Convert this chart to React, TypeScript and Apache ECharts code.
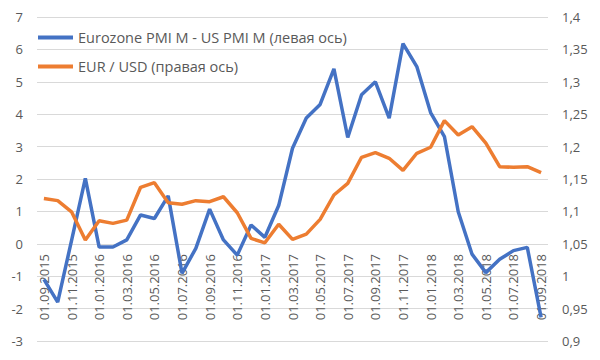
import React, { useEffect, useRef } from "react";
import * as echarts from "echarts";

const dates = [
  "01.09.2015", "01.10.2015", "01.11.2015", "01.12.2015",
  "01.01.2016", "01.02.2016", "01.03.2016", "01.04.2016", "01.05.2016", "01.06.2016",
  "01.07.2016", "01.08.2016", "01.09.2016", "01.10.2016", "01.11.2016", "01.12.2016",
  "01.01.2017", "01.02.2017", "01.03.2017", "01.04.2017", "01.05.2017", "01.06.2017",
  "01.07.2017", "01.08.2017", "01.09.2017", "01.10.2017", "01.11.2017", "01.12.2017",
  "01.01.2018", "01.02.2018", "01.03.2018", "01.04.2018", "01.05.2018", "01.06.2018",
  "01.07.2018", "01.08.2018", "01.09.2018",
];

const pmiDiff = [
  -1.1, -1.8, 0.1, 2.02, -0.1, -0.1, 0.12, 0.89, 0.78, 1.48,
  -0.91, -0.14, 1.07, 0.12, -0.35, 0.58, 0.2, 1.18, 2.95, 3.88,
  4.3, 5.4, 3.28, 4.6, 5.0, 3.88, 6.18, 5.47, 4.05, 3.31,
  0.99, -0.32, -0.89, -0.48, -0.21, -0.11, -2.27,
];

const eurUsd = [
  1.12, 1.1166, 1.0994, 1.0557, 1.0855, 1.0815, 1.0866, 1.1372, 1.1443, 1.1134,
  1.111, 1.1166, 1.115, 1.1226, 1.0979, 1.0583, 1.0515, 1.0802, 1.0568, 1.065,
  1.0877, 1.1253, 1.1433, 1.1835, 1.1907, 1.182, 1.1633, 1.1897, 1.199, 1.2401,
  1.218, 1.2308, 1.2052, 1.169, 1.1681, 1.169, 1.1598,
];

const seriesNames = ["Eurozone PMI M - US PMI M (левая ось)", "EUR / USD (правая ось)"];

const TEXT = "#595959";
const FONT = "Open Sans";

// left-axis range; the category axis sits at its zero line, as in the reference
const LEFT_MIN = -3;
const LEFT_MAX = 7;
const GRID_TOP = 17;
const GRID_BOTTOM = 19;
const CHART_H = 360;

export default function App() {
  const ref = useRef<HTMLDivElement>(null);
  useEffect(() => {
    if (!ref.current) return;
    const chart = echarts.init(ref.current, null, { renderer: "svg" });
    const gridH = CHART_H - GRID_TOP - GRID_BOTTOM;
    const zeroOffset = -Math.round((gridH * (0 - LEFT_MIN)) / (LEFT_MAX - LEFT_MIN));
    chart.setOption({
      animation: false,
      backgroundColor: "#ffffff",
      textStyle: { fontFamily: FONT },
      grid: {
        left: 37,
        right: 52,
        top: GRID_TOP,
        bottom: GRID_BOTTOM,
        containLabel: false,
        outerBoundsMode: "none",
      },
      legend: {
        orient: "vertical",
        left: 33,
        top: 25,
        itemGap: 14,
        itemWidth: 35,
        itemHeight: 4,
        icon: "rect",
        textStyle: { color: TEXT, fontSize: 14.5, fontFamily: FONT },
        data: seriesNames,
      },
      xAxis: {
        type: "category",
        data: dates,
        boundaryGap: true,
        offset: zeroOffset,
        axisLine: { show: false, onZero: false },
        axisTick: { show: false },
        axisLabel: {
          interval: 1,
          rotate: 90,
          color: TEXT,
          fontSize: 13,
          fontFamily: FONT,
          margin: 10,
        },
      },
      yAxis: [
        {
          type: "value",
          min: LEFT_MIN,
          max: LEFT_MAX,
          interval: 1,
          axisLine: { show: false },
          axisTick: { show: false },
          splitLine: { lineStyle: { color: "#d9d9d9", width: 1 } },
          axisLabel: { color: TEXT, fontSize: 13, fontFamily: FONT, margin: 14 },
        },
        {
          type: "value",
          min: 0.9,
          max: 1.4,
          interval: 0.05,
          axisLine: { show: false },
          axisTick: { show: false },
          splitLine: { show: false },
          axisLabel: {
            color: TEXT,
            fontSize: 13,
            fontFamily: FONT,
            margin: 14,
            formatter: (v: number) =>
              parseFloat(v.toFixed(2)).toString().replace(".", ","),
          },
        },
      ],
      series: [
        {
          name: seriesNames[0],
          type: "line",
          yAxisIndex: 0,
          data: pmiDiff,
          symbol: "none",
          lineStyle: { color: "#4472C4", width: 3.5 },
          itemStyle: { color: "#4472C4" },
          z: 2,
        },
        {
          name: seriesNames[1],
          type: "line",
          yAxisIndex: 1,
          data: eurUsd,
          symbol: "none",
          lineStyle: { color: "#ED7D31", width: 3.5 },
          itemStyle: { color: "#ED7D31" },
          z: 3,
        },
      ],
    });
    return () => chart.dispose();
  }, []);
  return <div ref={ref} style={{ width: 600, height: 360, position: "absolute", left: 0, top: 0 }} />;
}
